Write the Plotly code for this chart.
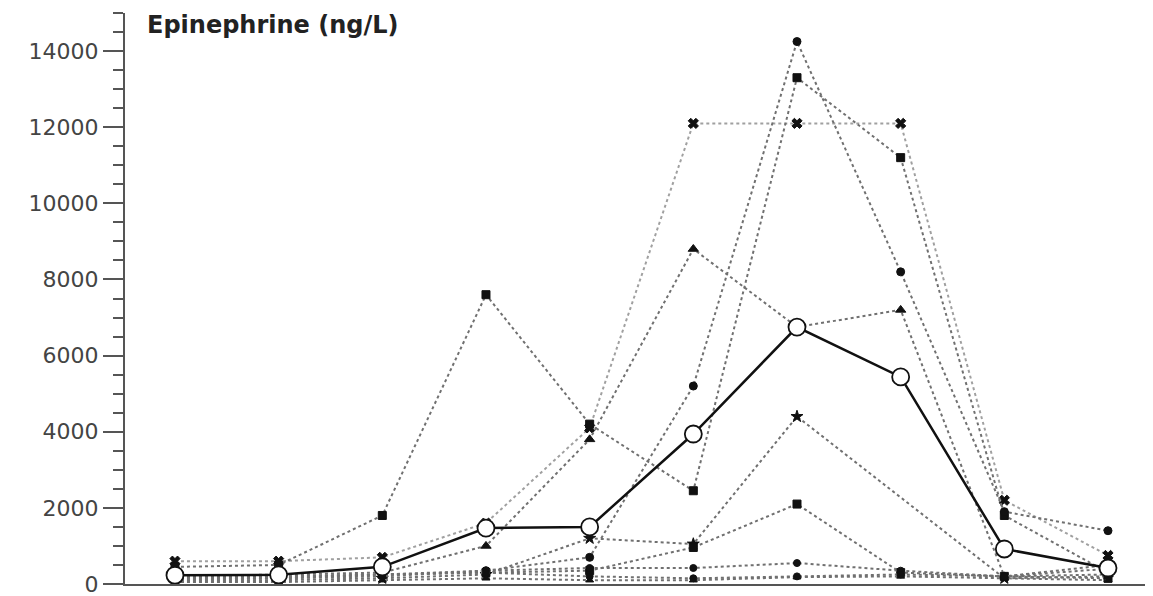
import plotly.graph_objects as go

time_points = [1, 2, 3, 4, 5, 6, 7, 8, 9, 10]

mean_values = [230, 240, 450, 1470, 1500, 3940, 6750, 5440, 920, 420]

cross_values = [600, 600, 700, 1600, 4100, 12100, 12100, 12100, 2200, 750]
square_a_values = [450, 500, 1800, 7600, 4200, 2450, 13300, 11200, 1800, 300]
circle_a_values = [150, 200, 250, 350, 700, 5200, 14250, 8200, 1900, 1400]
triangle_a_values = [200, 250, 300, 1000, 3800, 8800, 6750, 7200, 200, 250]
star_values = [100, 100, 150, 250, 1200, 1050, 4400, None, 150, 200]
square_b_values = [150, 150, 250, 300, 350, 960, 2100, 300, 200, 150]
circle_b_values = [100, 150, 200, 350, 420, 420, 550, 350, 200, 500]
triangle_b_values = [50, 50, 100, 150, 100, 100, 180, 200, 150, 100]
circle_c_values = [200, 200, 250, 300, 200, 150, 200, 250, 200, 400]

y_tick_values = [0, 2000, 4000, 6000, 8000, 10000, 12000, 14000]
y_tick_labels = ["0", "2000", "4000", "6000", "8000", "10000", "12000", "14000"]

individuals = [
    (cross_values, "x", "#a0a0a0", 9),
    (square_a_values, "square", "#707070", 8),
    (circle_a_values, "circle", "#707070", 8),
    (triangle_a_values, "triangle-up", "#707070", 9),
    (star_values, "star", "#707070", 9),
    (square_b_values, "square", "#707070", 8),
    (circle_b_values, "circle", "#707070", 7),
    (triangle_b_values, "triangle-up", "#707070", 7),
    (circle_c_values, "circle", "#707070", 7),
]

fig = go.Figure()

for vals, sym, col, size in individuals:
    fig.add_trace(go.Scatter(
        x=time_points, y=vals, mode="lines+markers", connectgaps=True,
        line=dict(color=col, width=2, dash="3px,3px"),
        marker=dict(symbol=sym, size=size, color="#111111",
                    line=dict(color="#111111", width=1)),
        showlegend=False, hoverinfo="skip",
    ))

fig.add_trace(go.Scatter(
    x=time_points, y=mean_values, mode="lines+markers",
    line=dict(color="#111111", width=2.5),
    marker=dict(symbol="circle", size=17, color="white",
                line=dict(color="#111111", width=1.8)),
    showlegend=False,
))

# page body adds an 8px offset; margins compensate so the axes land where the reference has them
fig.update_layout(
    width=1153, height=596,
    margin=dict(l=117, r=8, t=5, b=20),
    paper_bgcolor="white", plot_bgcolor="white",
    xaxis=dict(range=[0.518, 10.434], showgrid=False, zeroline=False,
               showline=True, linecolor="#555555", linewidth=2,
               showticklabels=False, ticks=""),
    yaxis=dict(range=[0, 15000], showgrid=False, zeroline=False,
               showline=True, linecolor="#555555", linewidth=2,
               tickmode="array", tickvals=y_tick_values, ticktext=y_tick_labels,
               ticks="outside", ticklen=20, tickwidth=2, tickcolor="#555555",
               tickfont=dict(family="DejaVu Sans", size=22, color="#444444"),
               minor=dict(dtick=500, ticks="outside", ticklen=10, tickwidth=2,
                          tickcolor="#555555")),
    annotations=[dict(
        text="<b>Epinephrine (ng/L)</b>", xref="paper", yref="paper",
        x=(145 - 125) / 1028, y=1 - (25 - 13) / 571,
        xanchor="left", yanchor="middle", showarrow=False,
        font=dict(family="DejaVu Sans", size=24, color="#222222"),
    )],
)

fig.write_html("out.html")
